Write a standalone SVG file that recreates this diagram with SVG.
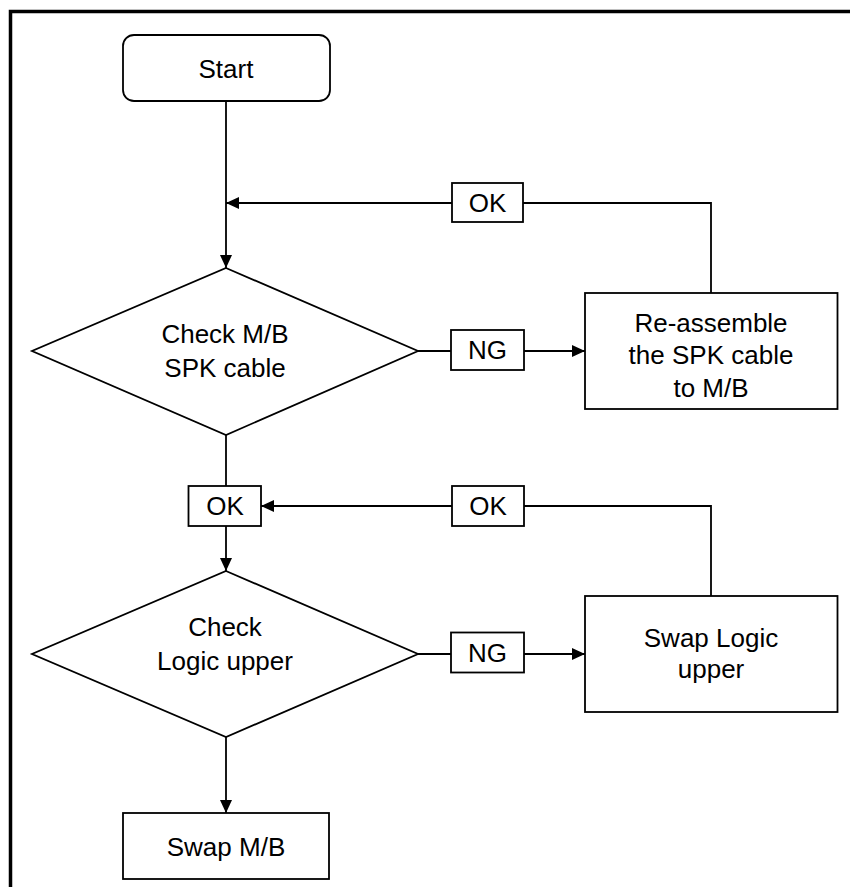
<svg xmlns="http://www.w3.org/2000/svg" width="850" height="887" viewBox="0 0 850 887">
<defs>
<style>
.shape{fill:#fff;stroke:#000;stroke-width:1.8}
.line{fill:none;stroke:#000;stroke-width:1.8}
.t{font-family:"Liberation Sans",Arial,sans-serif;font-size:26px;fill:#000;text-anchor:middle}
</style>
<marker id="arr" viewBox="0 0 13 12" refX="13" refY="6" markerWidth="13" markerHeight="12" markerUnits="userSpaceOnUse" orient="auto">
<path d="M0,0 L13,6 L0,12 Z" fill="#000"/>
</marker>
</defs>
<rect width="850" height="887" fill="#fff"/>
<path d="M10.5,887 V11.5 H850" fill="none" stroke="#000" stroke-width="3.5"/>

<g id="connectors">
<line class="line" x1="226" y1="101" x2="226" y2="268" marker-end="url(#arr)"/>
<polyline class="line" points="711,293 711,203 523,203"/>
<line class="line" x1="452" y1="203" x2="226" y2="203" marker-end="url(#arr)"/>
<line class="line" x1="418" y1="351" x2="451" y2="351"/>
<line class="line" x1="524" y1="351" x2="585" y2="351" marker-end="url(#arr)"/>
<line class="line" x1="226" y1="435" x2="226" y2="486"/>
<line class="line" x1="226" y1="526" x2="226" y2="571" marker-end="url(#arr)"/>
<polyline class="line" points="711,596 711,506 524,506"/>
<line class="line" x1="452" y1="506" x2="261" y2="506" marker-end="url(#arr)"/>
<line class="line" x1="418" y1="654" x2="451" y2="654"/>
<line class="line" x1="524" y1="654" x2="585" y2="654" marker-end="url(#arr)"/>
<line class="line" x1="226" y1="737" x2="226" y2="813" marker-end="url(#arr)"/>
</g>

<g id="start">
<rect class="shape" x="123" y="35" width="207" height="66" rx="11"/>
<text class="t" x="226" y="78">Start</text>
</g>

<g id="ok1">
<rect class="shape" x="452" y="183" width="71" height="39"/>
<text class="t" x="487.5" y="212">OK</text>
</g>

<g id="check-spk">
<polygon class="shape" points="226,268 418,351 226,435 32,351"/>
<text class="t" x="225" y="343">Check M/B</text>
<text class="t" x="225" y="376.5">SPK cable</text>
</g>

<g id="ng1">
<rect class="shape" x="451" y="330" width="73" height="40"/>
<text class="t" x="487.5" y="359">NG</text>
</g>

<g id="reassemble">
<rect class="shape" x="585" y="293" width="252.5" height="116"/>
<text class="t" x="711" y="331.5">Re-assemble</text>
<text class="t" x="711" y="363.5">the SPK cable</text>
<text class="t" x="711" y="396.5">to M/B</text>
</g>

<g id="ok2">
<rect class="shape" x="188.5" y="486" width="72.5" height="40"/>
<text class="t" x="225" y="515">OK</text>
</g>

<g id="ok3">
<rect class="shape" x="452" y="486" width="72" height="40"/>
<text class="t" x="488" y="515">OK</text>
</g>

<g id="check-logic">
<polygon class="shape" points="226,571 418,654 226,737 32,654"/>
<text class="t" x="225" y="636">Check</text>
<text class="t" x="225" y="670">Logic upper</text>
</g>

<g id="ng2">
<rect class="shape" x="451" y="632.5" width="73" height="40"/>
<text class="t" x="487.5" y="662">NG</text>
</g>

<g id="swap-logic">
<rect class="shape" x="585" y="596" width="252.5" height="116"/>
<text class="t" x="711" y="647">Swap Logic</text>
<text class="t" x="711" y="678">upper</text>
</g>

<g id="swap-mb">
<rect class="shape" x="123" y="813" width="206" height="66"/>
<text class="t" x="226" y="856">Swap M/B</text>
</g>
</svg>
